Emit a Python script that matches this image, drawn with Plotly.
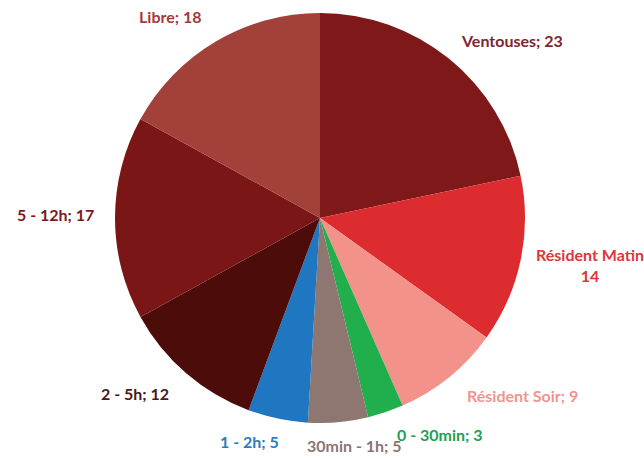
import plotly.graph_objects as go

labels = ["Ventouses", "Résident Matin", "Résident Soir", "0 - 30min", "30min - 1h",
          "1 - 2h", "2 - 5h", "5 - 12h", "Libre"]
values = [23, 14, 9, 3, 5, 5, 12, 17, 18]
slice_colors = ["#7E1819", "#DD2C2F", "#F3918B", "#21AE4C", "#8E7770",
                "#1E77C0", "#4B0C0A", "#7B1616", "#A2403A"]
label_colors = ["#7D2530", "#E0353A", "#EE9590", "#22A050", "#8A7670",
                "#2C7CC0", "#4A1818", "#7A1A1A", "#A33A3A"]
# label text anchor positions (pixels) in the reference layout
label_px = [(512, 40), (590, 265), (522, 395), (440, 434), (354, 445),
            (249, 441), (135, 393), (55, 214), (171, 17)]

W, H = 644, 459
cx, cy, r = 320, 218, 205

fig = go.Figure(go.Pie(
    labels=labels, values=values, sort=False, direction="clockwise", rotation=0,
    marker=dict(colors=slice_colors, line=dict(width=0)),
    textinfo="none", hoverinfo="label+value",
    domain=dict(x=[(cx - r) / W, (cx + r) / W], y=[1 - (cy + r) / H, 1 - (cy - r) / H]),
    showlegend=False,
))

for lab, val, col, (px, py) in zip(labels, values, label_colors, label_px):
    txt = f"<b>{lab}</b><br><b>{val}</b>" if lab == "Résident Matin" else f"<b>{lab}; {val}</b>"
    fig.add_annotation(x=px / W, y=1 - py / H, xref="paper", yref="paper",
                       text=txt, showarrow=False, xanchor="center", yanchor="middle",
                       font=dict(family="Lato", size=16, color=col))

fig.update_layout(width=W, height=H, margin=dict(l=0, r=0, t=0, b=0),
                  paper_bgcolor="white", plot_bgcolor="white")
fig.write_html("out.html", config={"displayModeBar": False},
               post_script="document.body.style.margin='0px';document.body.style.overflow='hidden';")
